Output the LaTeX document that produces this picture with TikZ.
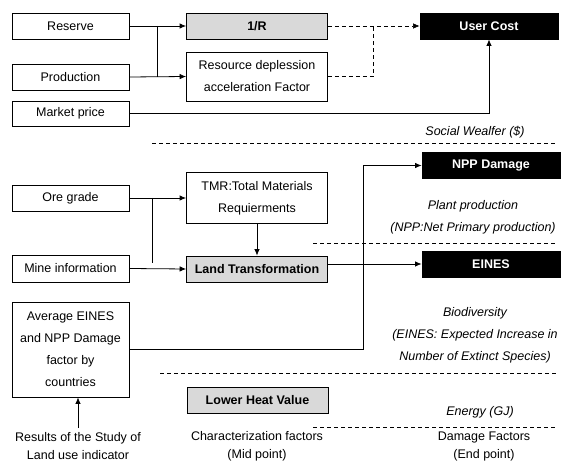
\documentclass[tikz,border=0pt]{standalone}
\usepackage{fontspec}
\setmainfont{Liberation Sans}
\usetikzlibrary{arrows.meta}

\tikzset{
  box/.style={draw, line width=0.8pt, minimum width=117pt, minimum height=26pt, inner sep=2pt, align=center},
  widebox/.style={box, minimum width=141pt},
  greybox/.style={widebox, fill=black!15, font=\bfseries},
  darkbox/.style={box, fill=black, text=white, minimum width=138pt, font=\bfseries},
  note/.style={align=center, font=\itshape},
  plain/.style={align=center, font=\fontsize{12.5}{18}\selectfont},
  link/.style={line width=0.8pt, -{Latex[length=6.5pt,width=5.5pt]}},
  sep/.style={line width=0.6pt, dash pattern=on 4pt off 3pt},
}

\begin{document}
\begin{tikzpicture}[x=1pt, y=-1pt]
\fontsize{12.5}{22}\selectfont
\useasboundingbox (0,0) rectangle (563,468);

% social welfare part
\node[box] (reserve) at (70.5,26) {Reserve};
\node[box] (prod) at (70.5,77) {Production};
\node[box, minimum height=25pt] (market) at (70.5,113.5) {Market price};
\node[greybox] (invr) at (257,26) {1/R};
\node[widebox, minimum height=49pt] (rdaf) at (257,76.5) {Resource deplession\\acceleration Factor};
\node[darkbox] (user) at (489,26) {User Cost};
\coordinate (jtop) at (157,26);
\coordinate (jbot) at (157,77);
\coordinate (djoin) at (373,26);
\draw[link] (reserve.east) -- (invr.west);
\draw[link] (prod.east) -- (rdaf.west);
\draw[line width=0.8pt] (jtop) -- (jbot);
\draw[link, sep] (invr.east) -- (user.west);
\draw[sep] (rdaf.east) -| (djoin);
\draw[link] (market.east) -| (user.south);
\node[note] (social) at (475,132) {Social Wealfer (\$)};
\draw[sep] (152,143) -- (557,143);

% land use part
\node[box] (ore) at (70.5,198) {Ore grade};
\node[widebox, minimum height=51pt] (tmr) at (257,198) {TMR:Total Materials\\Requierments};
\node[box, minimum height=27pt] (mine) at (70.5,268.5) {Mine information};
\node[greybox] (land) at (257,269) {Land Transformation};
\node[darkbox] (npp) at (491,165.5) {NPP Damage};
\node[darkbox] (eines) at (491,264) {EINES};
\node[box, minimum height=95pt] (avg) at (70.5,349.5) {Average EINES\\and NPP Damage\\factor by\\countries};
\coordinate (ojoin) at (152,198);
\coordinate (mjoin) at (152,263);
\coordinate (bend) at (363,165.5);
\draw[link] (ore.east) -- (tmr.west);
\draw[link] (mine.east) -- (land.west);
\draw[line width=0.8pt] (ojoin) -- (mjoin);
\draw[link] (tmr.south) -- (land.north);
\draw[link] (land.east |- eines.west) -- (eines.west);
\draw[link] (avg.east) -| (bend) -- (npp.west);
\node[note] (plant) at (473,217) {Plant production\\(NPP:Net Primary production)};
\draw[sep] (313,243) -- (557,243);
\node[note] (bio) at (475,335) {Biodiversity\\(EINES: Expected Increase in\\Number of Extinct Species)};
\draw[sep] (160,373) -- (557,373);

% energy part
\node[greybox] (lhv) at (257.5,400) {Lower Heat Value};
\node[note] (energy) at (480,412) {Energy (GJ)};
\draw[sep] (313,427) -- (557,427);
\node[plain] (mid) at (257,446) {Characterization factors\\(Mid point)};
\node[plain] (endp) at (484,446) {Damage Factors\\(End point)};
\node[plain] (study) at (78,446) {Results of the Study of\\Land use indicator};
\draw[link] (study.north) -- (study.north |- avg.south);
\end{tikzpicture}
\end{document}
